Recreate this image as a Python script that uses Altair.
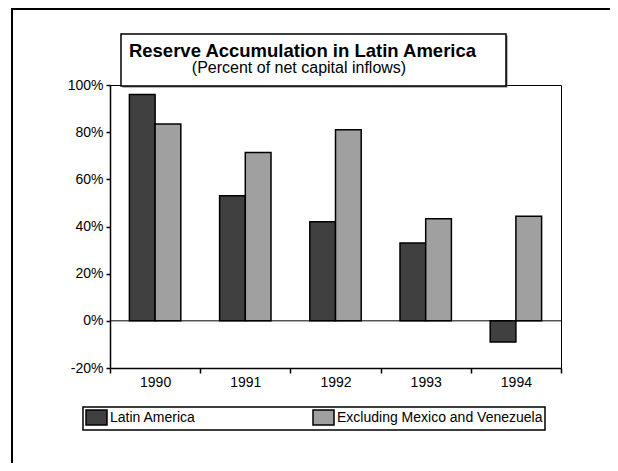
import altair as alt
import pandas as pd

# ---- data ----
years = ["1990", "1991", "1992", "1993", "1994"]
latin_america = [96, 53, 42, 33, -9]
excl_mex_ven = [83.5, 71.4, 81, 43.3, 44.3]
series_names = ["Latin America", "Excluding Mexico and Venezuela"]
series_colors = ["#404040", "#a0a0a0"]
title_text = "Reserve Accumulation in Latin America"
subtitle_text = "(Percent of net capital inflows)"
y_tick_values = list(range(-20, 101, 10))

rows = []
for i, yr in enumerate(years):
    rows.append({"year": yr, "series": series_names[0], "value": latin_america[i]})
    rows.append({"year": yr, "series": series_names[1], "value": excl_mex_ven[i]})
df = pd.DataFrame(rows)
one = pd.DataFrame({"title": [title_text], "subtitle": [subtitle_text]})

FONT = "Liberation Sans"

x_enc = alt.X(
    "year:N", sort=years,
    scale=alt.Scale(paddingInner=0, paddingOuter=0),
    axis=alt.Axis(title=None, labelAngle=0, tickBand="extent", tickSize=5, tickWidth=1.5,
                  tickColor="black", domainColor="black", domainWidth=1.5,
                  labelFontSize=14, labelColor="black", labelFont=FONT, labelPadding=2,
                  grid=False),
)
y_enc = alt.Y(
    "value:Q",
    scale=alt.Scale(domain=[-20, 100], nice=False),
    axis=alt.Axis(title=None, values=y_tick_values,
                  labelExpr="datum.value % 20 === 0 ? datum.value + '%' : ''",
                  tickSize={"condition": {"test": "datum.value % 20 === 0", "value": 4}, "value": 2},
                  tickWidth=1.5, tickColor="black", domainColor="black", domainWidth=1.5,
                  labelFontSize=14, labelColor="black", labelFont=FONT, labelPadding=3,
                  grid=False),
)

bars = alt.Chart(df).mark_bar(stroke="black", strokeWidth=1.5).encode(
    x=x_enc,
    xOffset=alt.XOffset("series:N", sort=series_names,
                        scale=alt.Scale(paddingInner=0, paddingOuter=0.755)),
    y=y_enc,
    color=alt.Color(
        "series:N", sort=series_names,
        scale=alt.Scale(domain=series_names, range=series_colors),
        legend=alt.Legend(orient="none", legendX=-27, legendY=322, direction="horizontal",
                          title=None, symbolType="M-1.4,-1H1.4V1H-1.4Z", symbolSize=225,
                          symbolOffset=3,
                          symbolStrokeColor="black", symbolStrokeWidth=1.5, symbolOpacity=1,
                          labelFont=FONT, labelFontSize=14, labelColor="black",
                          labelOffset=5, labelLimit=400, columnPadding=114, padding=2,
                          strokeColor="black", fillColor="white"),
    ),
)

zero_rule = alt.Chart(one).mark_rule(color="black", strokeWidth=1).encode(y=alt.datum(0))

frame = alt.Chart(one).mark_rect(fillOpacity=0, stroke="black", strokeWidth=2).encode(
    x=alt.value(-98), x2=alt.value(600), y=alt.value(-76), y2=alt.value(500))

shadow = alt.Chart(one).mark_rect(fill="#707070").encode(
    x=alt.value(12.5), x2=alt.value(397.5), y=alt.value(-49.5), y2=alt.value(2.5))
box = alt.Chart(one).mark_rect(fill="white", stroke="black", strokeWidth=1.5).encode(
    x=alt.value(11), x2=alt.value(396), y=alt.value(-51), y2=alt.value(1))

title = alt.Chart(one).mark_text(font=FONT, fontSize=18.5, fontWeight="bold", align="center",
                                 baseline="alphabetic", color="black").encode(
    x=alt.value(192.5), y=alt.value(-28.5), text="title:N")
subtitle = alt.Chart(one).mark_text(font=FONT, fontSize=16, align="center",
                                    baseline="alphabetic", color="black").encode(
    x=alt.value(189), y=alt.value(-12), text="subtitle:N")

chart = alt.layer(frame, bars, zero_rule, shadow, box, title, subtitle).properties(
    width=451, height=283,
    autosize=alt.AutoSizeParams(type="none"),
    padding={"left": 102, "top": 77, "right": 49, "bottom": 95},
    background="white",
).configure_view(stroke="black", strokeWidth=1).configure_legend(strokeWidth=1.5)

chart.save("out.html", embed_options={"renderer": "svg", "actions": False})
